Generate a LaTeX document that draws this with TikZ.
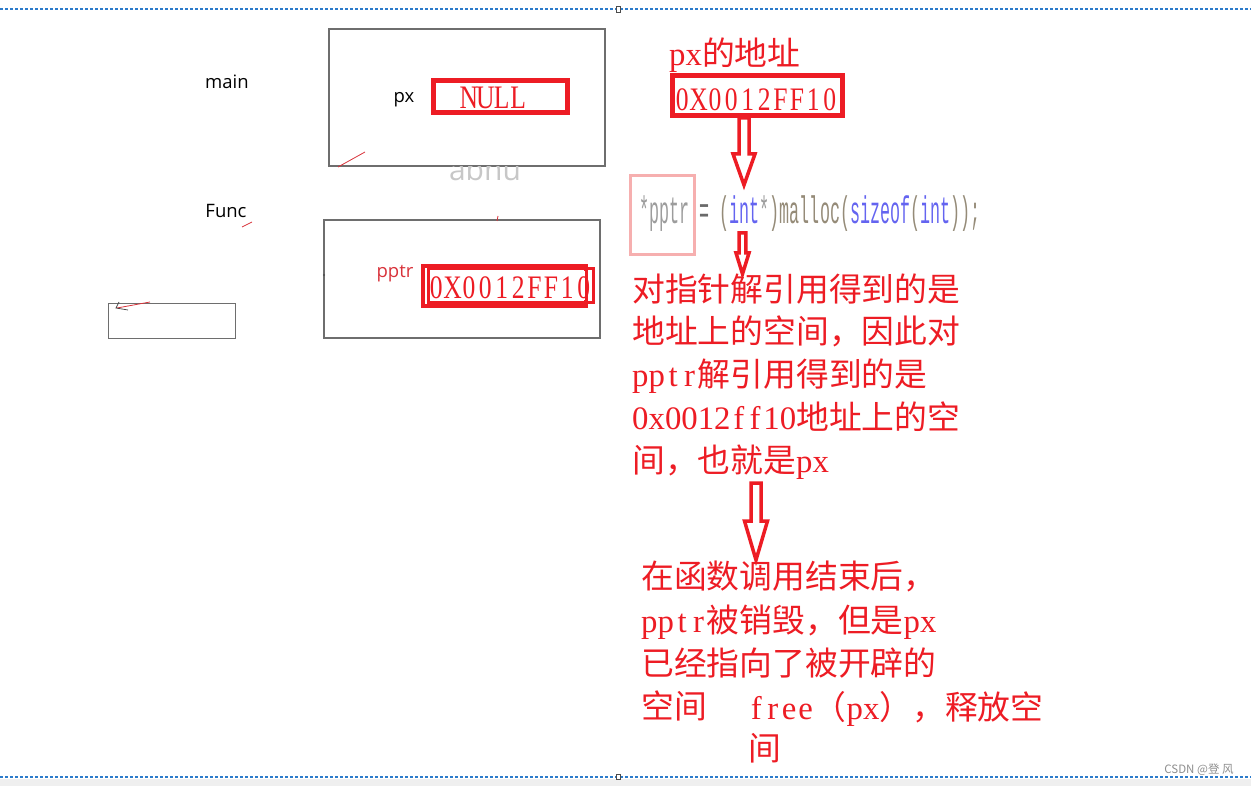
\documentclass[tikz,border=0pt]{standalone}
\usepackage{fontspec}
\setmainfont{Liberation Serif}
\newfontfamily\cjk{Noto Sans CJK SC}
\newfontfamily\latn[FakeStretch=0.78]{Liberation Serif}
\newfontfamily\latl{Liberation Serif}
\newfontfamily\uisans{Open Sans}
\newfontfamily\codefont{Liberation Mono}

\definecolor{wred}{HTML}{ED1C24}
\definecolor{lblred}{HTML}{D8323A}
\definecolor{boxgray}{HTML}{6E6E6E}
\definecolor{editblue}{HTML}{2C7BCB}
\definecolor{bandgray}{HTML}{EFEFEF}
\definecolor{pinkmark}{HTML}{F6AFAF}
\definecolor{cgray}{HTML}{9C9C9C}
\definecolor{cdark}{HTML}{6A6A6A}
\definecolor{cbrown}{HTML}{958B78}
\definecolor{cblue}{HTML}{6464F0}
\definecolor{wmgray}{HTML}{8E8E8E}

% half-width cells, like the Latin letters of the original font
\newlength\hwlen
\makeatletter
\newcommand\hw[1]{{\setlength\hwlen{.5em}\latn\@tfor\hwc:=#1\do{\makebox[\hwlen]{\hwc}}}}
\newcommand\hwl[1]{{\setlength\hwlen{.5em}\latl\@tfor\hwc:=#1\do{\makebox[\hwlen]{\hwc}}}}
\makeatother

% hollow down arrow: x, top, neck, tip, shaft half, head half
\newcommand\hollowdown[6]{%
  \draw[hollow] ({#1-#5},#2) -- ({#1-#5},#3) -- ({#1-#6},#3) -- (#1,#4)
    -- ({#1+#6},#3) -- ({#1+#5},#3) -- ({#1+#5},#2) -- cycle;}

\tikzset{
  graybox/.style={draw=boxgray, line width=1.4pt, inner sep=0},
  redbox/.style={draw=wred, line width=4.5pt, inner sep=0},
  hollow/.style={draw=wred, line width=3.5pt, line join=miter, fill=white},
  note/.style={anchor=west, inner sep=0, text=wred, text height=28pt, text depth=5pt,
    font=\cjk\fontsize{32.8}{40}\selectfont},
  hwval/.style={inner sep=0, text=wred, text height=28pt, text depth=5pt,
    font=\fontsize{32.8}{40}\selectfont},
  uilabel/.style={inner sep=0, font=\uisans\fontsize{18.5}{20}\selectfont},
  editline/.style={draw=editblue, line width=1.3pt, dash pattern=on 3pt off 2pt},
}

\begin{document}
\begin{tikzpicture}[x=1pt, y=-1pt]
\useasboundingbox (0,0) rectangle (1251,786);

% editor page
\fill[bandgray] (0,779) rectangle (1251,786);
\draw[editline] (0,9) -- (1251,9);
\draw[editline] (0,777) -- (1251,777);
\draw[fill=white, draw=black!70, line width=.6pt] (616,6) rectangle (620,12);
\draw[fill=white, draw=black!70, line width=.6pt] (616,774) rectangle (620,779);

% stack frames
\node[uilabel] (mainlbl) at (227,82) {main};
\node[graybox, minimum width=276pt, minimum height=137pt] (mainbox) at (467,97.5) {};
\node[uilabel] (pxlbl) at (404,100) {px};
\node[redbox, minimum width=134pt, minimum height=32pt] (nullbox) at (500.5,96.5) {};
\node[hwval] (nullval) at (493.5,97) {\hw{NULL}};
\draw[lblred, line width=.8pt] (338,167) -- (365,152);
\begin{scope}
  \clip (420,167) rectangle (560,190);
  \node[inner sep=0, text=black!22, font=\uisans\fontsize{30}{32}\selectfont] (ghost) at (485,169) {abnu};
\end{scope}

\node[uilabel] (funclbl) at (226,211) {Func};
\draw[lblred, line width=.8pt] (242,227) -- (252,222);
\node[graybox, minimum width=276pt, minimum height=118pt] (funcbox) at (462,279) {};
\draw[lblred, line width=.8pt] (498,216) -- (497,221);
\fill[black!70] (324,275) circle (1.2);
\node[uilabel, text=lblred] (pptrlbl) at (395,274) {pptr};
\node[redbox, minimum width=163pt, minimum height=40pt, line width=4pt] (pptrbox) at (504.5,286) {};
\node[redbox, minimum width=165pt, minimum height=34pt, line width=3pt] (pptrbox2) at (510.5,286) {};
\node[fill=white, inner sep=0, minimum width=154pt, minimum height=29pt] at (508,286) {};
\node[hwval] (pptrval) at (510,287) {\hw{0X0012FF10}};

\node[graybox, minimum width=127pt, minimum height=35pt] (smallbox) at (172,321) {};
\draw[lblred, line width=.8pt] (117,308) -- (150,302);
\draw[black!70, line width=.8pt] (119,302) -- (116,308) -- (128,310);

% address of px
\node[note] (addrlbl) at (669,54) {\hwl{px}的地址};
\node[redbox, minimum width=170pt, minimum height=40pt] (addrbox) at (757.5,95.5) {};
\node[hwval] (addrval) at (756,99) {\hw{0X0012FF10}};
\hollowdown{744}{118}{154}{185}{5}{11}

% code line
\node[draw=pinkmark, line width=3pt, minimum width=64pt, minimum height=79pt, inner sep=0] (pptrmark) at (662.5,215) {};
\node[inner sep=0] (codeline) at (810,214) {\scalebox{1}[2.3]{\codefont\fontsize{16.7}{18}\selectfont
  \textcolor{cgray}{*pptr} \textcolor{cdark}{=} \textcolor{cbrown}{(}\textcolor{cblue}{int}\textcolor{cgray}{*}\textcolor{cbrown}{)malloc(}\textcolor{cblue}{sizeof}\textcolor{cbrown}{(}\textcolor{cblue}{int}\textcolor{cbrown}{));}}};
\hollowdown{742.5}{233}{253}{274}{3.3}{6.5}

% explanation
\node[note] (n1) at (632,290) {对指针解引用得到的是};
\node[note] (n2) at (632,332) {地址上的空间，因此对};
\node[note] (n3) at (632,375) {\hwl{pptr}解引用得到的是};
\node[note] (n4) at (632,418) {\hwl{0x0012ff10}地址上的空};
\node[note] (n5) at (632,461) {间，也就是\hwl{px}};
\hollowdown{756}{483}{521}{560}{5}{11.5}

\node[note] (m1) at (641,577) {在函数调用结束后，};
\node[note] (m2) at (641,621) {\hwl{pptr}被销毁，但是\hwl{px}};
\node[note] (m3) at (641,664) {已经指向了被开辟的};
\node[note] (m4) at (641,707) {空间};
\node[note] (m5) at (748,708) {\hwl{free}（\hwl{px}），释放空};
\node[note] (m6) at (748,749) {间};

\node[inner sep=0, text=wmgray, font=\cjk\fontsize{11.5}{12}\selectfont] (wm) at (1199,770) {CSDN @登 风};
\end{tikzpicture}
\end{document}
